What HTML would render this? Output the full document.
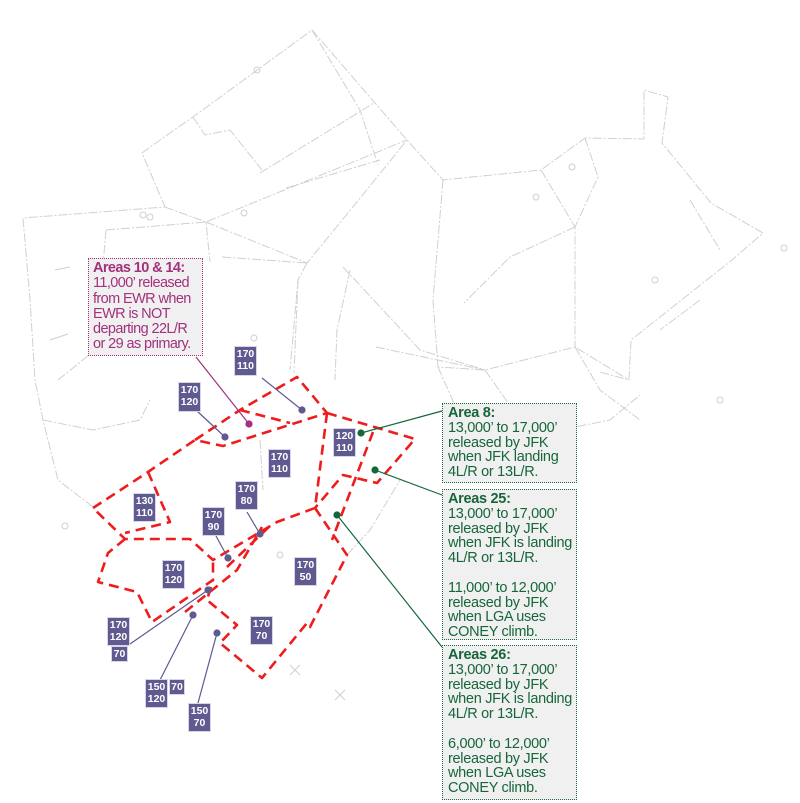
<!DOCTYPE html>
<html><head><meta charset="utf-8"><style>
html,body{margin:0;padding:0;background:#fff;}
body{width:800px;height:803px;position:relative;overflow:hidden;font-family:"Liberation Sans",sans-serif;}
.lb{position:absolute;background:#5f5a8f;color:#fff;font-weight:bold;font-size:10.5px;line-height:12px;text-align:center;padding:1px 0;border:1px solid #d8d6e6;box-sizing:border-box;}
.box{position:absolute;background:#f0f0f0;box-sizing:border-box;font-size:14.5px;line-height:14.8px;padding:2px 0 0 5px;letter-spacing:-0.3px;white-space:nowrap;}
.g{border:1px dotted #1b6a3f;color:#16663a;}
.m{border:1px dotted #a3317d;color:#a3317d;}
</style></head><body>
<svg width="800" height="803" style="position:absolute;left:0;top:0">
<g fill="none" stroke="#d0d0d0" stroke-width="1" stroke-dasharray="9 2 2 2">
<polyline points="93,507 58,480 43,420 35,380 30,300 23,218 165,207 142,153 167,135 193,117 312,30 407,140 443,180 541,170 585,138 644,139 644,90 668,97 662,143 711,203 763,233 732,260 631,340 629,380 600,372"/>
<polyline points="165,207 206,222 407,140"/>
<polyline points="206,222 307,263 361,197 407,140"/>
<polyline points="106,230 206,222 210,262"/>
<polyline points="222,257 307,263"/>
<polyline points="443,180 433,300 438,367 485,370 575,347 629,380"/>
<polyline points="541,170 575,227 575,347"/>
<polyline points="575,227 510,257 464,303"/>
<polyline points="585,138 598,177 575,227"/>
<polyline points="260,173 374,103"/>
<polyline points="286,188 380,160"/>
<polyline points="298,280 294,373"/>
<polyline points="350,270 337,330 335,380"/>
<polyline points="376,347 485,370"/>
<polyline points="343,267 420,350 485,370"/>
<polyline points="307,263 298,280 290,370"/>
<polyline points="193,117 205,135 230,130 262,170"/>
<polyline points="312,30 360,110 378,165"/>
<polyline points="106,230 100,300 90,340"/>
<polyline points="43,420 93,430 140,420 150,400"/>
<polyline points="58,380 120,330 140,260"/>
<polyline points="485,370 520,420 560,430 610,420 640,395"/>
<polyline points="438,367 470,440 470,470"/>
<polyline points="347,555 370,530 400,480"/>
<polyline points="260,440 263,490"/>
<polyline points="575,347 600,390 640,420"/>
<polyline points="700,300 660,330"/>
<polyline points="690,200 720,250"/>
</g>
<g fill="none" stroke="#cfcfcf" stroke-width="1">
<circle cx="257" cy="70" r="3"/><circle cx="150" cy="217" r="3"/><circle cx="143" cy="215" r="3"/><circle cx="244" cy="213" r="3"/><circle cx="536" cy="197" r="3"/><circle cx="572" cy="167" r="3"/><circle cx="655" cy="280" r="3"/><circle cx="65" cy="526" r="3"/><circle cx="254" cy="338" r="3"/><circle cx="720" cy="400" r="3"/><circle cx="784" cy="248" r="3"/><circle cx="280" cy="555" r="3"/>
<path d="M290,665 l10,10 M300,665 l-10,10 M335,690 l10,10 M345,690 l-10,10 M55,270 l15,-3 M50,340 l18,-6"/>
</g>
<g fill="none" stroke="#ee1c1c" stroke-width="2.6" stroke-dasharray="10 6" stroke-linejoin="round">
<polyline points="93,508 148,472 195,440 223,446 327,413"/>
<polyline points="195,440 240,410 297,377 327,413"/>
<polyline points="240,410 290,423"/>
<polyline points="327,413 315,508 277,522 213,560 190,539 125,539 93,508"/>
<polyline points="148,472 170,522 125,533"/>
<polyline points="125,539 108,553 98,582 137,592 152,622 213,580 213,560"/>
<polyline points="315,508 347,555 310,627 307,623 262,678 220,643 237,625 207,600 213,580"/>
<polyline points="227,567 273,523"/>
<polyline points="327,413 415,439 377,483 343,475 315,508"/>
<polyline points="373,432 332,540"/>
<polyline points="185,612 237,570 262,527"/>
</g>
<g stroke="#5f5a8f" stroke-width="1.2" fill="#5f5a8f">
<line x1="262" y1="378" x2="302" y2="410"/><line x1="197" y1="411" x2="225" y2="437"/><line x1="247" y1="512" x2="260" y2="534"/><line x1="216" y1="536" x2="228" y2="558"/><line x1="130" y1="644" x2="208" y2="590"/><line x1="160" y1="680" x2="193" y2="615"/><line x1="198" y1="703" x2="217" y2="633"/>
<circle cx="302" cy="410" r="3"/><circle cx="225" cy="437" r="3"/><circle cx="260" cy="534" r="3"/><circle cx="228" cy="558" r="3"/><circle cx="208" cy="590" r="3"/><circle cx="193" cy="615" r="3"/><circle cx="217" cy="633" r="3"/>
</g>
<g stroke="#a3317d" stroke-width="1.2" fill="#a3317d"><line x1="196" y1="357" x2="249" y2="424"/><circle cx="249" cy="424" r="3"/></g>
<g stroke="#16663a" stroke-width="1.2" fill="#16663a">
<line x1="361" y1="433" x2="442" y2="411"/><line x1="375" y1="470" x2="442" y2="495"/><line x1="337" y1="515" x2="442" y2="647"/>
<circle cx="361" cy="433" r="3"/><circle cx="375" cy="470" r="3"/><circle cx="337" cy="515" r="3"/>
</g>
</svg>
<div class="lb" style="left:234px;top:346px;width:23px;height:30px">170<br>110</div>
<div class="lb" style="left:178px;top:382px;width:23px;height:30px">170<br>120</div>
<div class="lb" style="left:268px;top:449px;width:23px;height:29px">170<br>110</div>
<div class="lb" style="left:133px;top:493px;width:23px;height:29px">130<br>110</div>
<div class="lb" style="left:333px;top:428px;width:23px;height:29px">120<br>110</div>
<div class="lb" style="left:235px;top:481px;width:23px;height:29px">170<br>80</div>
<div class="lb" style="left:202px;top:507px;width:23px;height:29px">170<br>90</div>
<div class="lb" style="left:162px;top:560px;width:23px;height:29px">170<br>120</div>
<div class="lb" style="left:294px;top:557px;width:23px;height:29px">170<br>50</div>
<div class="lb" style="left:250px;top:616px;width:23px;height:29px">170<br>70</div>
<div class="lb" style="left:107px;top:617px;width:23px;height:29px">170<br>120</div>
<div class="lb" style="left:111px;top:646px;width:17px;height:16px">70</div>
<div class="lb" style="left:145px;top:679px;width:23px;height:29px">150<br>120</div>
<div class="lb" style="left:169px;top:679px;width:16px;height:16px">70</div>
<div class="lb" style="left:188px;top:703px;width:23px;height:29px">150<br>70</div>
<div class="box m" style="left:88px;top:258px;width:115px;height:98px;font-size:14.5px;line-height:15.3px;letter-spacing:-0.6px;padding-left:4px"><b>Areas 10 &amp; 14:</b><br>11,000’ released<br>from EWR when<br>EWR is NOT<br>departing 22L/R<br>or 29 as primary.</div>
<div class="box g" style="left:442px;top:403px;width:135px;height:80px"><b>Area 8:</b><br>13,000’ to 17,000’<br>released by JFK<br>when JFK landing<br>4L/R or 13L/R.</div>
<div class="box g" style="left:442px;top:489px;width:135px;height:151px"><b>Areas 25:</b><br>13,000’ to 17,000’<br>released by JFK<br>when JFK is landing<br>4L/R or 13L/R.<br><br>11,000’ to 12,000’<br>released by JFK<br>when LGA uses<br>CONEY climb.</div>
<div class="box g" style="left:442px;top:645px;width:135px;height:155px"><b>Areas 26:</b><br>13,000’ to 17,000’<br>released by JFK<br>when JFK is landing<br>4L/R or 13L/R.<br><br>6,000’ to 12,000’<br>released by JFK<br>when LGA uses<br>CONEY climb.</div>
</body></html>
